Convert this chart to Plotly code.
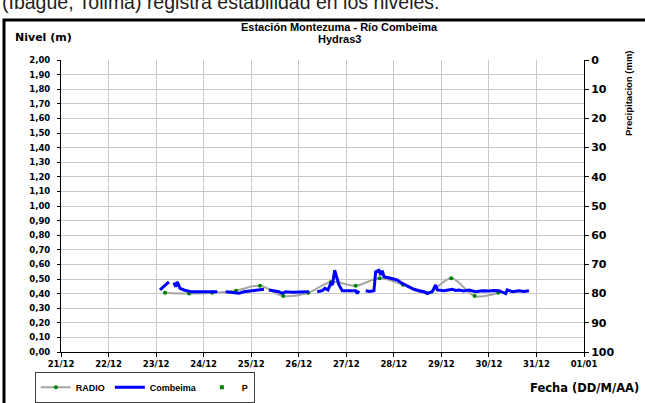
import plotly.graph_objects as go
from datetime import datetime, timedelta

BASE = datetime(2019, 12, 21)

# Combeima level (m): time as day offsets from 21/12 00:00; None = gap in the record
combeima_days = [2.082, 2.177, 2.271, None,
                 2.376, 2.412, 2.446, 2.503, 2.587, 2.728, 2.860, 3.024, 3.190, 3.287, None,
                 3.464, 3.552, 3.638, 3.743, 3.848, 3.960, 4.059, 4.269, None,
                 4.374, 4.477, 4.584, 4.654, 4.725, 4.862, 5.005, 5.114, 5.215, None,
                 5.390, 5.495, 5.552, 5.615, 5.672, 5.710, 5.756, 5.790, 5.846, 5.916, 6.050, 6.198, 6.231, 6.267, None,
                 6.408, 6.490, 6.582, 6.618, 6.688, 6.723, 6.757, 6.793, 6.934, 7.073, 7.178, 7.318, 7.424, 7.535,
                 7.634, 7.703, 7.808, 7.880, 7.914, 8.054, 8.139, 8.229, 8.305, 8.370, 8.469, 8.580, 8.721, 8.854,
                 9.001, 9.106, 9.211, 9.352, 9.386, 9.491, 9.632, 9.735, 9.842]
combeima_vals = [0.425, 0.45, 0.48, None,
                 0.475, 0.447, 0.48, 0.436, 0.425, 0.413, 0.413, 0.415, 0.413, 0.413, None,
                 0.413, 0.41, 0.406, 0.402, 0.413, 0.418, 0.425, 0.43, None,
                 0.425, 0.418, 0.413, 0.402, 0.413, 0.41, 0.413, 0.416, 0.413, None,
                 0.413, 0.42, 0.436, 0.425, 0.47, 0.46, 0.56, 0.516, 0.459, 0.42, 0.418, 0.42, 0.40, 0.42, None,
                 0.42, 0.415, 0.42, 0.55, 0.56, 0.527, 0.557, 0.516, 0.505, 0.493, 0.47, 0.447, 0.43, 0.42,
                 0.413, 0.402, 0.413, 0.459, 0.425, 0.42, 0.425, 0.43, 0.422, 0.425, 0.418, 0.425, 0.413, 0.42,
                 0.418, 0.422, 0.42, 0.40, 0.425, 0.413, 0.42, 0.415, 0.42]

# RADIO level (m)
radio_days = [2.187, 2.692, 3.182, 3.680, 4.185, 4.675, 5.201, 5.678, 6.198, 6.702, 7.192, 7.703, 8.208, 8.700, 9.196]
radio_vals = [0.406, 0.40, 0.406, 0.42, 0.454, 0.384, 0.406, 0.48, 0.454, 0.505, 0.46, 0.402, 0.505, 0.384, 0.406]

# Precipitation (mm) - no data in the period
p_days = []
p_vals = []

tick_labels = ["21/12", "22/12", "23/12", "24/12", "25/12", "26/12", "27/12", "28/12", "29/12", "30/12", "31/12", "01/01"]


def to_dt(days):
    return [BASE + timedelta(days=d) if d is not None else None for d in days]


FONT = "Arial, Liberation Sans, sans-serif"
WIDE = "DejaVu Sans, Verdana, sans-serif"

fig = go.Figure()
fig.add_trace(go.Scatter(x=to_dt(radio_days), y=radio_vals, name="RADIO", mode="lines+markers",
                         line=dict(color="#a6a6a6", width=2, shape="spline"),
                         marker=dict(color="#008000", size=4)))
fig.add_trace(go.Scatter(x=to_dt(combeima_days), y=combeima_vals, name="Combeima", mode="lines",
                         line=dict(color="#0000ff", width=3), connectgaps=False))
fig.add_trace(go.Scatter(x=to_dt(p_days) if p_days else [None], y=p_vals if p_vals else [None], name="P",
                         mode="markers", marker=dict(color="#008000", size=4, symbol="square"), yaxis="y2"))

tickvals = [BASE + timedelta(days=i) for i in range(len(tick_labels))]

fig.update_layout(
    width=645, height=403,
    margin=dict(l=61, r=61, t=60, b=51, autoexpand=False),
    paper_bgcolor="white", plot_bgcolor="white",
    separators=",.",
    font=dict(family=FONT, color="black"),
    showlegend=True,
    legend=dict(orientation="h", x=-0.05, y=-0.068, xanchor="left", yanchor="top",
                bordercolor="#404040", borderwidth=1, bgcolor="white",
                font=dict(size=9, family=FONT, weight="bold"), itemwidth=30, tracegroupgap=0),
    xaxis=dict(range=[tickvals[0], tickvals[-1]], tickvals=tickvals, ticktext=tick_labels,
               showgrid=True, gridcolor="#c8c8c8", gridwidth=1, automargin=False,
               showline=True, linecolor="black", linewidth=1, ticks="outside", ticklen=4,
               tickcolor="black", tickfont=dict(size=8.5, family=WIDE, weight="bold"), zeroline=False),
    yaxis=dict(range=[0, 2], dtick=0.1, tickformat=".2f", showgrid=True, gridcolor="#c8c8c8",
               automargin=False, ticklabelstandoff=5,
               showline=True, linecolor="black", linewidth=1, ticks="outside", ticklen=3,
               tickcolor="black", tickfont=dict(size=8.5, family=WIDE, weight="bold"), zeroline=False),
    yaxis2=dict(range=[100, 0], dtick=10, overlaying="y", side="right", showgrid=False,
                automargin=False,
                showline=True, linecolor="black", linewidth=1, ticks="outside", ticklen=4,
                tickcolor="black", tickfont=dict(size=11, family=WIDE, weight="bold"), zeroline=False),
)

# outer frame
fig.add_shape(type="rect", xref="paper", yref="paper",
              x0=(4 - 61) / 523, x1=(700 - 61) / 523,
              y0=(352 - 450) / 292, y1=(352 - 20) / 292,
              line=dict(color="black", width=3), layer="below")

annots = [
    dict(text="(Ibagué, Tolima) registra estabilidad en los niveles.", x=(0 - 61) / 523, y=(352 - 15) / 292,
         xanchor="left", yanchor="bottom", font=dict(size=19.5, color="#222222", family=FONT)),
    dict(text="<b>Estación Montezuma - Río Combeima</b>", x=(339 - 61) / 523, y=(352 - 27) / 292,
         xanchor="center", yanchor="middle", font=dict(size=11, family=FONT)),
    dict(text="<b>Hydras3</b>", x=(339 - 61) / 523, y=(352 - 39) / 292,
         xanchor="center", yanchor="middle", font=dict(size=11, family=FONT)),
    dict(text="<b>Nivel (m)</b>", x=(13 - 61) / 523, y=(352 - 37) / 292, xanchor="left", yanchor="middle",
         font=dict(size=11, family=WIDE)),
    dict(text="<b>Precipitacion (mm)</b>", x=(628 - 61) / 523, y=(352 - 93) / 292, xanchor="center",
         yanchor="middle", textangle=-90, font=dict(size=9.5, family=FONT)),
    dict(text="<b>Fecha (DD/M/AA)</b>", x=(641 - 61) / 523, y=(352 - 388) / 292, xanchor="right",
         yanchor="middle", font=dict(size=11.5, family=WIDE)),
]
for a in annots:
    fig.add_annotation(xref="paper", yref="paper", showarrow=False, **a)

fig.write_html("out.html", config={"displayModeBar": False},
               post_script="document.body.style.margin='0';document.body.style.padding='0';")
